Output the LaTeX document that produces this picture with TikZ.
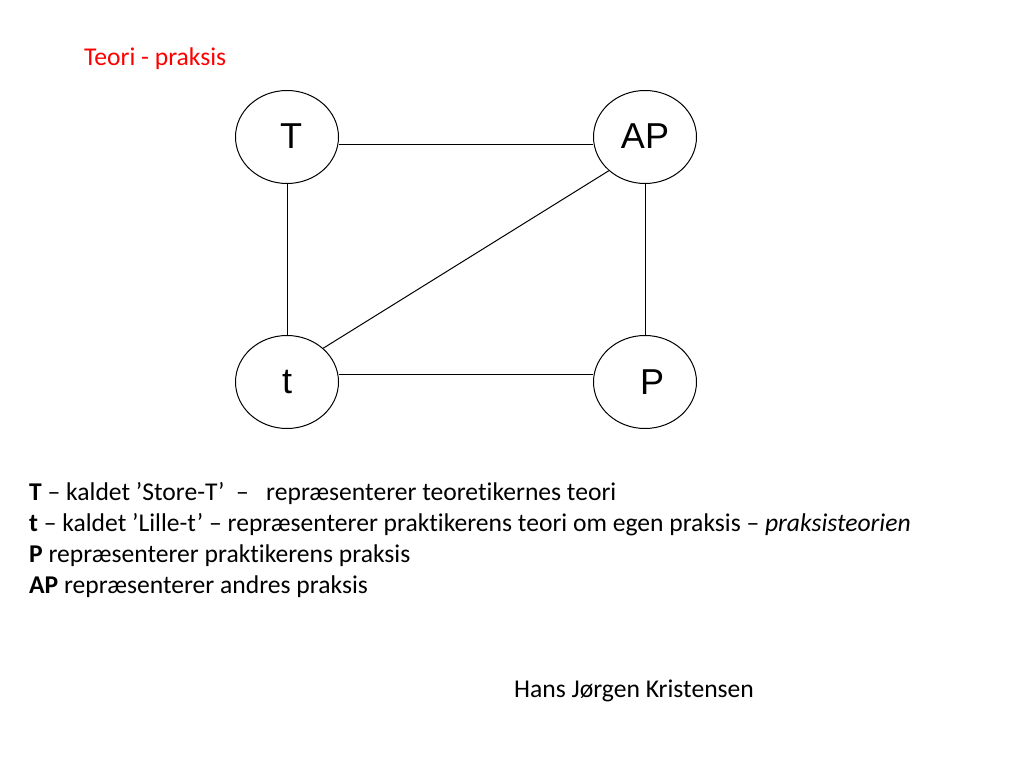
\documentclass[tikz,border=0pt]{standalone}
\usepackage{fontspec}
\setmainfont{Carlito}[RawFeature={-liga;-dlig}]
\newfontfamily\arialfont{Liberation Sans}
\usetikzlibrary{shapes.geometric}
\begin{document}
\begin{tikzpicture}[x=1pt,y=1pt,
  circ/.style={draw,ellipse,line width=1pt,minimum width=103pt,minimum height=93pt,inner sep=0pt,font=\arialfont\fontsize{36}{36}\selectfont},
  edge/.style={line width=1pt},
  body/.style={anchor=base west,inner sep=0pt,font=\fontsize{25.6}{31}\selectfont}]
\useasboundingbox (0,0) rectangle (1024,768);
\fill[white] (0,0) rectangle (1024,768);
\node[body,text=red] (title) at (84,{768-66}) {Teori - praksis};
\node[circ] (T) at (287,{768-137}) {\raisebox{2pt}{\hspace*{8pt}T}};
\node[circ] (AP) at (645,{768-137}) {\raisebox{2pt}{AP}};
\node[circ] (t) at (287,{768-382}) {t};
\node[circ] (P) at (645,{768-382}) {\hspace*{14pt}P};
\draw[edge] ([yshift=-8pt]T.east) -- ([yshift=-8pt]AP.west);
\draw[edge] ([yshift=7pt]t.east) -- ([yshift=7pt]P.west);
\draw[edge] (T.south) -- (t.north);
\draw[edge] (AP.south) -- (P.north);
\draw[edge] (t.43) -- (AP.223);
\node[body] (l1) at (29,{768-501}) {\textbf{T} – kaldet ’Store-T’\ \ –\ \ \ repræsenterer teoretikernes teori};
\node[body] (l2) at (29,{768-532}) {\textbf{t} – kaldet ’Lille-t’ – repræsenterer praktikerens teori om egen praksis – \textit{praksisteorien}};
\node[body] (l3) at (29,{768-563}) {\textbf{P} repræsenterer praktikerens praksis};
\node[body] (l4) at (29,{768-594}) {\textbf{AP} repræsenterer andres praksis};
\node[body] (author) at (514,{768-697}) {Hans Jørgen Kristensen};
\end{tikzpicture}
\end{document}
